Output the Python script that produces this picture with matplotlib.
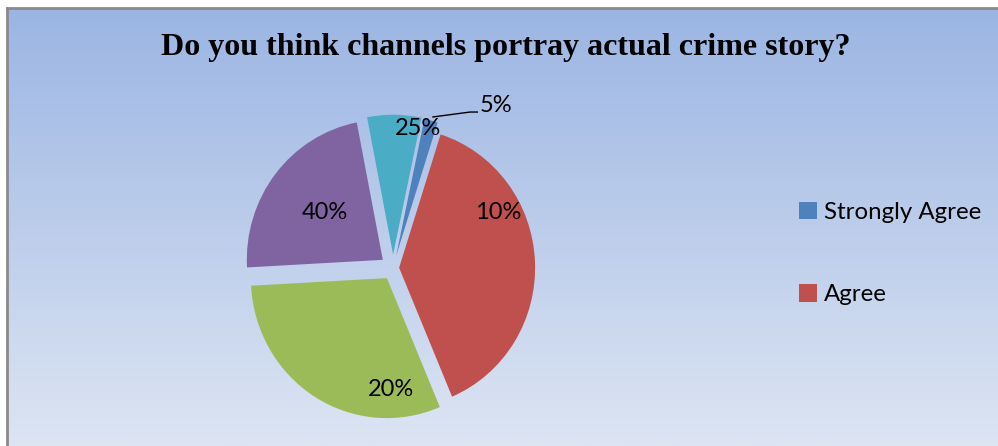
import numpy as np
import matplotlib.pyplot as plt

# data
categories = ['Strongly Agree', 'Agree', 'Neutral', 'Disagree', 'Strongly Disagree']
shares = [1.6, 38.7, 30.5, 22.8, 6.4]
shown_labels = ['5%', '10%', '20%', '40%', '25%']
colors = ['#4F81BD', '#C0504D', '#9BBB59', '#8064A2', '#4BACC6']
explode = [0.09, 0.045, 0.085, 0.095, 0.095]
legend_count = 2

# label spots (pie units), first one sits outside with a leader line
label_xy = [(0.76, 1.164), (0.772, 0.40), (-0.015, -0.871), (-0.5, 0.393), (0.184, 1.0)]

title = 'Do you think channels portray actual crime story?'

fig = plt.figure(figsize=(9.98, 4.46), dpi=100)

# gradient background of the chart area with its grey frame
bg = fig.add_axes([7 / 998, 0, 1 - 7 / 998, (446 - 8) / 446])
grad = np.linspace(0, 1, 256)[:, None]
top = np.array([155, 181, 227]) / 255
bot = np.array([221, 229, 243]) / 255
img = top[None, None, :] * (1 - grad[:, :, None]) + bot[None, None, :] * grad[:, :, None]
bg.imshow(img, aspect='auto', extent=[0, 1, 0, 1])
bg.set_xlim(0, 1)
bg.set_ylim(0, 1)
bg.set_xticks([])
bg.set_yticks([])
for s in ['right', 'bottom']:
    bg.spines[s].set_visible(False)
for s in ['left', 'top']:
    bg.spines[s].set_color('#8a8a8a')
    bg.spines[s].set_linewidth(2)

fig.text(506 / 998, 1 - 48 / 446, title, ha='center', va='center',
         family='Liberation Serif', weight='bold', fontsize=23)

# pie (a little taller than wide, like the reference)
ax = fig.add_axes([229.8 / 998, 10 / 446, 326.4 / 998, 336 / 446])
wedges, _ = ax.pie(shares, colors=colors, startangle=78, counterclock=False,
                   explode=explode, radius=1)
ax.set_xlim(-1.2, 1.2)
ax.set_ylim(-1.2, 1.2)
ax.set_aspect('auto')
ax.axis('off')

for lab, (x, y) in zip(shown_labels, label_xy):
    ax.text(x, y, lab, ha='center', va='center', family='Lato', fontsize=17)

# leader line for the tiny slice
ax.plot([0.294, 0.566, 0.62], [1.079, 1.114, 1.114], color='black', lw=1)

leg = fig.legend(wedges[:legend_count], categories[:legend_count],
                 loc='upper left', bbox_to_anchor=(799 / 998, 1 - 201.5 / 446),
                 frameon=False, prop={'family': 'Lato', 'size': 17.3},
                 handlelength=0.75, handleheight=0.75, handletextpad=0.3,
                 labelspacing=2.55, borderpad=0, borderaxespad=0)

fig.savefig('out.png', dpi=100)
